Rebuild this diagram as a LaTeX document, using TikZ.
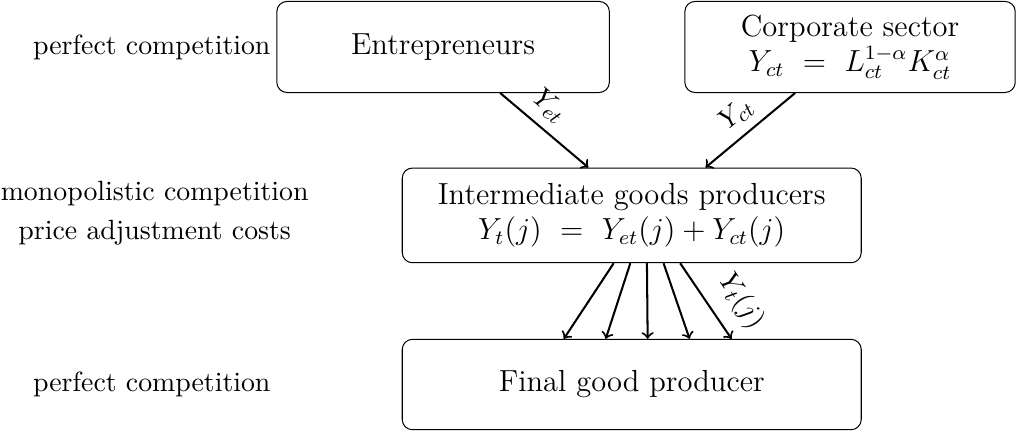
\documentclass[tikz,border=0pt,11pt]{standalone}
\usepackage{amsmath}
\usetikzlibrary{arrows,calc}
\begin{document}
\begin{tikzpicture}[
  sector/.style={draw, rounded corners, align=center, font=\large, minimum height=1.26cm},
  flow/.style={->, thick}]
\useasboundingbox (0,0) rectangle (14.07,6.10);

\node[sector, minimum width=4.6cm] (ent) at (6.13,5.45) {Entrepreneurs};
\node[sector, minimum width=4.57cm] (corp) at (11.76,5.45) {Corporate sector\\ $Y_{ct}\ =\ L_{ct}^{1-\alpha}K_{ct}^{\alpha}$};
\node[sector, minimum width=6.35cm, minimum height=1.31cm] (inter) at (8.74,3.12) {Intermediate goods producers\\ $Y_t(j)\ =\ Y_{et}(j)+Y_{ct}(j)$};
\node[sector, minimum width=6.35cm, minimum height=1.25cm] (final) at (8.74,0.78) {Final good producer};

\node (pc1) at (2.1,5.45) {perfect competition};
\node[align=center] (mc) at (2.14,3.15) {monopolistic competition\\[2pt] price adjustment costs};
\node (pc2) at (2.1,0.78) {perfect competition};

\draw[flow] ([xshift=0.79cm]ent.south) -- node[above, sloped, pos=0.4] {$Y_{et}$} ([xshift=-0.6cm]inter.north);
\draw[flow] ([xshift=-0.76cm]corp.south) -- node[above, sloped] {$Y_{ct}$} ([xshift=1.02cm]inter.north);
\foreach \i [evaluate=\i as \a using 0.21+\i*0.23, evaluate=\i as \b using 0.22+\i*0.58] in {-2,...,2}
  \draw[flow] ([xshift=\a cm]inter.south) -- ([xshift=\b cm]final.north);
\path ([xshift=0.67cm]inter.south) -- node[above=2pt, sloped, pos=0.72] {$Y_t(j)$} ([xshift=1.38cm]final.north);
\end{tikzpicture}
\end{document}
